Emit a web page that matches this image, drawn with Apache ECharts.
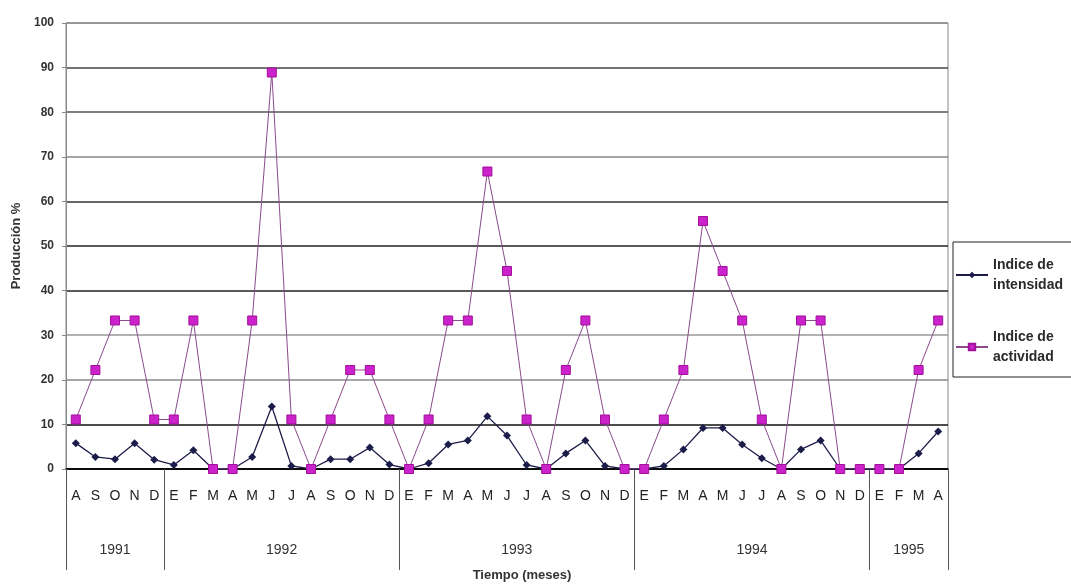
<!DOCTYPE html>
<html><head><meta charset="utf-8">
<script src="https://cdn.jsdelivr.net/npm/echarts@6/dist/echarts.min.js"></script>
<style>html,body{margin:0;padding:0;background:#fff}#c{width:1071px;height:587px}</style>
</head><body><div id="c"></div>
<script>
var months = ['A','S','O','N','D',
  'E','F','M','A','M','J','J','A','S','O','N','D',
  'E','F','M','A','M','J','J','A','S','O','N','D',
  'E','F','M','A','M','J','J','A','S','O','N','D',
  'E','F','M','A'];
var years = ['1991','1992','1993','1994','1995'];
var monthsPerYear = [5,12,12,12,4];
var intensidad = [5.8,2.7,2.2,5.8,2.1,
  0.9,4.2,0,0,2.7,14.0,0.7,0,2.2,2.2,4.8,1.0,
  0,1.3,5.5,6.4,11.8,7.5,0.9,0,3.5,6.4,0.7,0,
  0,0.7,4.4,9.2,9.2,5.5,2.4,0,4.4,6.4,0,0,
  0,0,3.5,8.4];
var actividad = [11.1,22.2,33.3,33.3,11.1,
  11.1,33.3,0,0,33.3,88.9,11.1,0,11.1,22.2,22.2,11.1,
  0,11.1,33.3,33.3,66.7,44.4,11.1,0,22.2,33.3,11.1,0,
  0,11.1,22.2,55.6,44.4,33.3,11.1,0,33.3,33.3,0,0,
  0,0,22.2,33.3];
var yTicks = [0,100,10];

// half-month resolution axis for year groups (boundaries at even indices)
var yearAxisData = [], yearBounds = [0], yearMids = [];
var acc = 0;
monthsPerYear.forEach(function(n, k){
  for (var i=0;i<2*n;i++) yearAxisData.push(years[k]);
  yearMids.push(acc*2 + n);
  acc += n;
  yearBounds.push(acc*2);
});
yearAxisData.push(years[years.length-1]);

var font = 'Liberation Sans, Arial, sans-serif';
var chart = echarts.init(document.getElementById('c'));
chart.setOption({
  animation:false,
  backgroundColor:'#fff',
  grid:{left:66,right:123,top:23,bottom:113,show:true,borderColor:'#888',borderWidth:1},
  legend:{
    orient:'vertical', left:953, top:242, itemWidth:32, itemHeight:8, itemGap:32,
    padding:[13,30,10,2], borderColor:'#222', borderWidth:1,
    textStyle:{fontFamily:font,fontSize:14,fontWeight:'bold',color:'#2a2a2a',lineHeight:20},
    data:['Indice de\nintensidad','Indice de\nactividad']
  },
  xAxis:[{
    type:'category', data:months, boundaryGap:true,
    axisLine:{lineStyle:{color:'#000',width:1.5}},
    axisTick:{interval:0,length:52,lineStyle:{color:'#555'}},
    axisLabel:{interval:0,margin:20,fontFamily:font,fontSize:14,color:'#222'}
  },{
    type:'category', data:yearAxisData, boundaryGap:false, position:'bottom',
    axisLine:{show:false},
    axisTick:{length:101,lineStyle:{color:'#555'},interval:function(i){return yearBounds.indexOf(i)>=0;}},
    axisLabel:{margin:74,fontFamily:font,fontSize:14,color:'#333',interval:function(i){return yearMids.indexOf(i)>=0;}},
    name:'Tiempo (meses)', nameLocation:'middle', nameGap:100,
    nameTextStyle:{fontFamily:font,fontSize:13,fontWeight:'bold',color:'#333',padding:[0,0,0,30]}
  }],
  yAxis:{
    type:'value', min:yTicks[0], max:yTicks[1], interval:yTicks[2],
    name:'Producción %', nameLocation:'middle', nameGap:42,
    nameTextStyle:{fontFamily:font,fontSize:13,fontWeight:'bold',color:'#333'},
    axisLine:{show:true,lineStyle:{color:'#888'}},
    axisTick:{show:true,length:4,lineStyle:{color:'#888'}},
    axisLabel:{fontFamily:font,fontSize:12,fontWeight:'bold',color:'#333',margin:12},
    splitLine:{lineStyle:{width:1.6,color:['#000','#111','#888','#999','#222','#222','#333','#888','#555','#444','#888']}}
  },
  series:[{
    name:'Indice de\nintensidad', type:'line', data:intensidad,
    symbol:'diamond', symbolSize:8,
    lineStyle:{color:'#1c1c4a',width:1.3},
    itemStyle:{color:'#1c1c4a'}
  },{
    name:'Indice de\nactividad', type:'line', data:actividad,
    symbol:'rect', symbolSize:9,
    lineStyle:{color:'#8a4a8a',width:1},
    itemStyle:{color:'#cc22cc',borderColor:'#a0109a',borderWidth:1}
  }]
});
</script></body></html>
